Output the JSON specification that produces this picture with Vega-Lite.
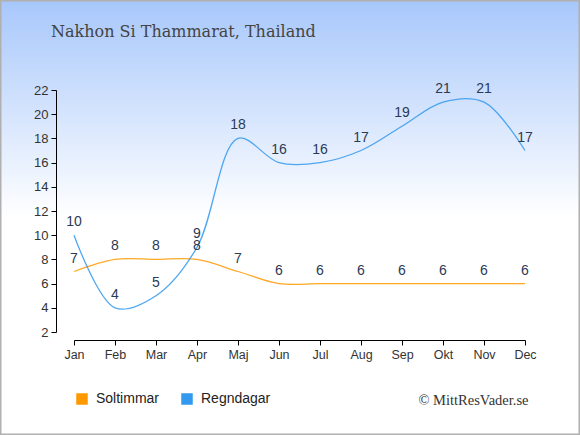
{
  "$schema": "https://vega.github.io/schema/vega-lite/v6.json",
  "width": 580,
  "height": 435,
  "autosize": "none",
  "padding": 0,
  "background": "#ffffff",
  "view": {
    "stroke": "#b0b0b0",
    "strokeWidth": 3,
    "fill": {
      "gradient": "linear",
      "x1": 0, "y1": 0, "x2": 0, "y2": 1,
      "stops": [
        {"offset": 0, "color": "#a7c7fb"},
        {"offset": 0.5, "color": "#ffffff"},
        {"offset": 1, "color": "#ffffff"}
      ]
    }
  },
  "title": {
    "text": "Nakhon Si Thammarat, Thailand",
    "anchor": "start",
    "frame": "group",
    "dx": 51,
    "offset": -48,
    "font": "DejaVu Serif",
    "fontSize": 16,
    "fontWeight": "normal",
    "color": "#444444",
    "baseline": "middle"
  },
  "data": {
    "values": [
      {"month": "Jan", "series": "Soltimmar", "value": 7},
      {"month": "Feb", "series": "Soltimmar", "value": 8},
      {"month": "Mar", "series": "Soltimmar", "value": 8},
      {"month": "Apr", "series": "Soltimmar", "value": 8},
      {"month": "Maj", "series": "Soltimmar", "value": 7},
      {"month": "Jun", "series": "Soltimmar", "value": 6},
      {"month": "Jul", "series": "Soltimmar", "value": 6},
      {"month": "Aug", "series": "Soltimmar", "value": 6},
      {"month": "Sep", "series": "Soltimmar", "value": 6},
      {"month": "Okt", "series": "Soltimmar", "value": 6},
      {"month": "Nov", "series": "Soltimmar", "value": 6},
      {"month": "Dec", "series": "Soltimmar", "value": 6},
      {"month": "Jan", "series": "Regndagar", "value": 10},
      {"month": "Feb", "series": "Regndagar", "value": 4},
      {"month": "Mar", "series": "Regndagar", "value": 5},
      {"month": "Apr", "series": "Regndagar", "value": 9},
      {"month": "Maj", "series": "Regndagar", "value": 18},
      {"month": "Jun", "series": "Regndagar", "value": 16},
      {"month": "Jul", "series": "Regndagar", "value": 16},
      {"month": "Aug", "series": "Regndagar", "value": 17},
      {"month": "Sep", "series": "Regndagar", "value": 19},
      {"month": "Okt", "series": "Regndagar", "value": 21},
      {"month": "Nov", "series": "Regndagar", "value": 21},
      {"month": "Dec", "series": "Regndagar", "value": 17}
    ]
  },
  "encoding": {
    "x": {
      "field": "month",
      "type": "ordinal",
      "sort": ["Jan","Feb","Mar","Apr","Maj","Jun","Jul","Aug","Sep","Okt","Nov","Dec"],
      "scale": {"type": "point", "range": [74, 525], "padding": 0},
      "axis": {
        "offset": -95,
        "labelAngle": 0,
        "labelFont": "Liberation Sans",
        "labelFontSize": 12.5,
        "labelColor": "#333333",
        "labelPadding": 3,
        "tickSize": 5,
        "tickColor": "#000000",
        "domainColor": "#000000",
        "grid": false,
        "title": "© MittResVader.se",
        "titleFont": "Liberation Serif",
        "titleFontSize": 14.5,
        "titleFontWeight": "normal",
        "titleColor": "#333333",
        "titleX": 473,
        "titleY": 60,
        "titleAlign": "center",
        "titleBaseline": "middle"
      }
    },
    "y": {
      "field": "value",
      "type": "quantitative",
      "scale": {"domain": [2, 22], "range": [332, 90], "nice": false, "zero": false},
      "axis": {
        "offset": -56,
        "values": [2,4,6,8,10,12,14,16,18,20,22],
        "labelFont": "Liberation Sans",
        "labelFontSize": 13,
        "labelColor": "#333333",
        "labelPadding": 3,
        "tickSize": 5,
        "tickColor": "#000000",
        "domainColor": "#000000",
        "grid": false,
        "title": null
      }
    },
    "color": {
      "field": "series",
      "type": "nominal",
      "scale": {"domain": ["Soltimmar", "Regndagar"], "range": ["#ff9900", "#3399ee"]},
      "legend": {
        "orient": "none",
        "legendX": 75,
        "legendY": 392,
        "direction": "horizontal",
        "title": null,
        "symbolType": "square",
        "symbolSize": 100,
        "symbolOpacity": 1,
        "labelFont": "Liberation Sans",
        "labelFontSize": 14,
        "labelColor": "#222222",
        "labelOffset": 7,
        "columnPadding": 19,
        "encode": {
          "symbols": {
            "update": {
              "fill": {"scale": "color", "field": "value"},
              "stroke": {"value": "transparent"}
            }
          }
        }
      }
    }
  },
  "layer": [
    {
      "mark": {"type": "line", "interpolate": "catmull-rom", "strokeWidth": 1.3, "opacity": 0.85}
    },
    {
      "mark": {"type": "text", "dy": -13, "font": "Liberation Sans", "fontSize": 14, "color": "#2b3a55", "baseline": "middle"},
      "encoding": {
        "text": {"field": "value", "type": "quantitative"},
        "color": {"value": "#2b3a55"}
      }
    }
  ]
}
